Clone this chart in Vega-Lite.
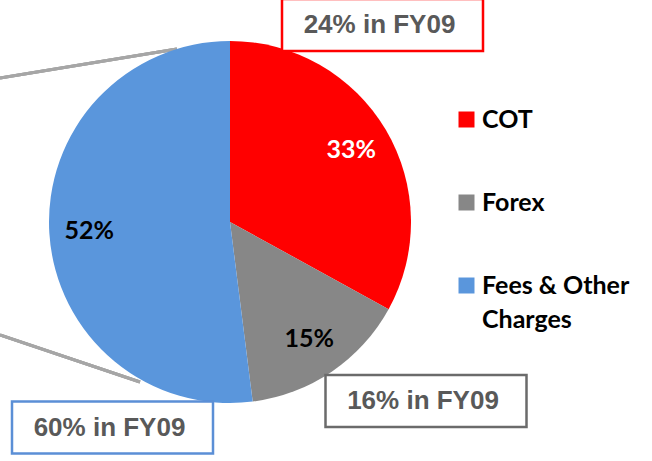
{
  "$schema": "https://vega.github.io/schema/vega-lite/v6.json",
  "autosize": {"type": "none"},
  "padding": {"left": 0, "top": 0, "right": 192, "bottom": 17},
  "width": 460,
  "height": 444,
  "background": "white",
  "view": {"stroke": null},
  "data": {"values": [
    {"category": "COT", "share": 33, "fy09": 24},
    {"category": "Forex", "share": 15, "fy09": 16},
    {"category": "Fees & Other Charges", "share": 52, "fy09": 60}
  ]},
  "transform": [
    {"calculate": "datum.share + '%'", "as": "shareLabel"},
    {"calculate": "datum.fy09 + '% in FY09'", "as": "fy09Label"},
    {"calculate": "indexof(['COT', 'Forex', 'Fees & Other Charges'], datum.category)", "as": "rank"}
  ],
  "layer": [
    {
      "mark": {"type": "rule", "color": "#A6A6A6", "strokeWidth": 3},
      "encoding": {"x": {"value": 0}, "y": {"value": 78}, "x2": {"value": 177}, "y2": {"value": 49}}
    },
    {
      "mark": {"type": "rule", "color": "#A6A6A6", "strokeWidth": 3},
      "encoding": {"x": {"value": 0}, "y": {"value": 335}, "x2": {"value": 140}, "y2": {"value": 382}}
    },
    {
      "mark": {"type": "arc", "outerRadius": 181},
      "encoding": {
        "theta": {"field": "share", "type": "quantitative", "stack": true},
        "order": {"field": "rank", "type": "quantitative", "sort": "ascending"},
        "color": {
          "field": "category",
          "type": "nominal",
          "sort": ["COT", "Forex", "Fees & Other Charges"],
          "scale": {"domain": ["COT", "Forex", "Fees & Other Charges"], "range": ["#FF0000", "#878787", "#5A96DC"]},
          "legend": {
            "orient": "none",
            "legendX": 454,
            "legendY": 107,
            "padding": 0,
            "title": null,
            "symbolType": "square",
            "symbolSize": 256,
            "symbolStrokeWidth": 0,
            "labelFont": "Lato",
            "labelFontWeight": "bold",
            "labelFontSize": 25,
            "labelColor": "#000000",
            "labelOffset": 3,
            "labelLimit": 300,
            "rowPadding": 57,
            "labelExpr": "datum.label == 'Fees & Other Charges' ? ['Fees & Other', 'Charges'] : datum.label",
            "encoding": {"labels": {"lineHeight": {"value": 34}}}
          }
        }
      }
    },
    {
      "mark": {"type": "text", "radius": 141, "font": "Lato", "fontWeight": "bold", "fontSize": 25},
      "encoding": {
        "theta": {"field": "share", "type": "quantitative", "stack": true},
        "order": {"field": "rank", "type": "quantitative", "sort": "ascending"},
        "detail": {"field": "category", "type": "nominal"},
        "text": {"field": "shareLabel"},
        "fill": {"condition": {"test": "datum.category === 'COT'", "value": "#FFFFFF"}, "value": "#000000"}
      }
    },
    {
      "mark": {"type": "rect", "width": 201, "height": 52, "fill": "#FFFFFF", "strokeWidth": 2.5},
      "encoding": {
        "x": {"field": "fy09", "type": "quantitative", "scale": {"domain": [16, 24, 60], "range": [426, 382.5, 112.5], "nice": false, "zero": false}, "axis": null},
        "y": {"field": "fy09", "type": "quantitative", "scale": {"domain": [16, 24, 60], "range": [401, 25, 427.5], "nice": false, "zero": false}, "axis": null},
        "stroke": {
          "field": "category",
          "type": "nominal",
          "scale": {"domain": ["COT", "Forex", "Fees & Other Charges"], "range": ["#FF0000", "#6B6B6B", "#5B8FD6"]},
          "legend": null
        }
      }
    },
    {
      "mark": {"type": "text", "font": "Liberation Sans", "fontWeight": "bold", "fontSize": 26, "fill": "#595959", "dx": -3},
      "encoding": {
        "x": {"field": "fy09", "type": "quantitative"},
        "y": {"field": "fy09", "type": "quantitative"},
        "text": {"field": "fy09Label"}
      }
    }
  ]
}
